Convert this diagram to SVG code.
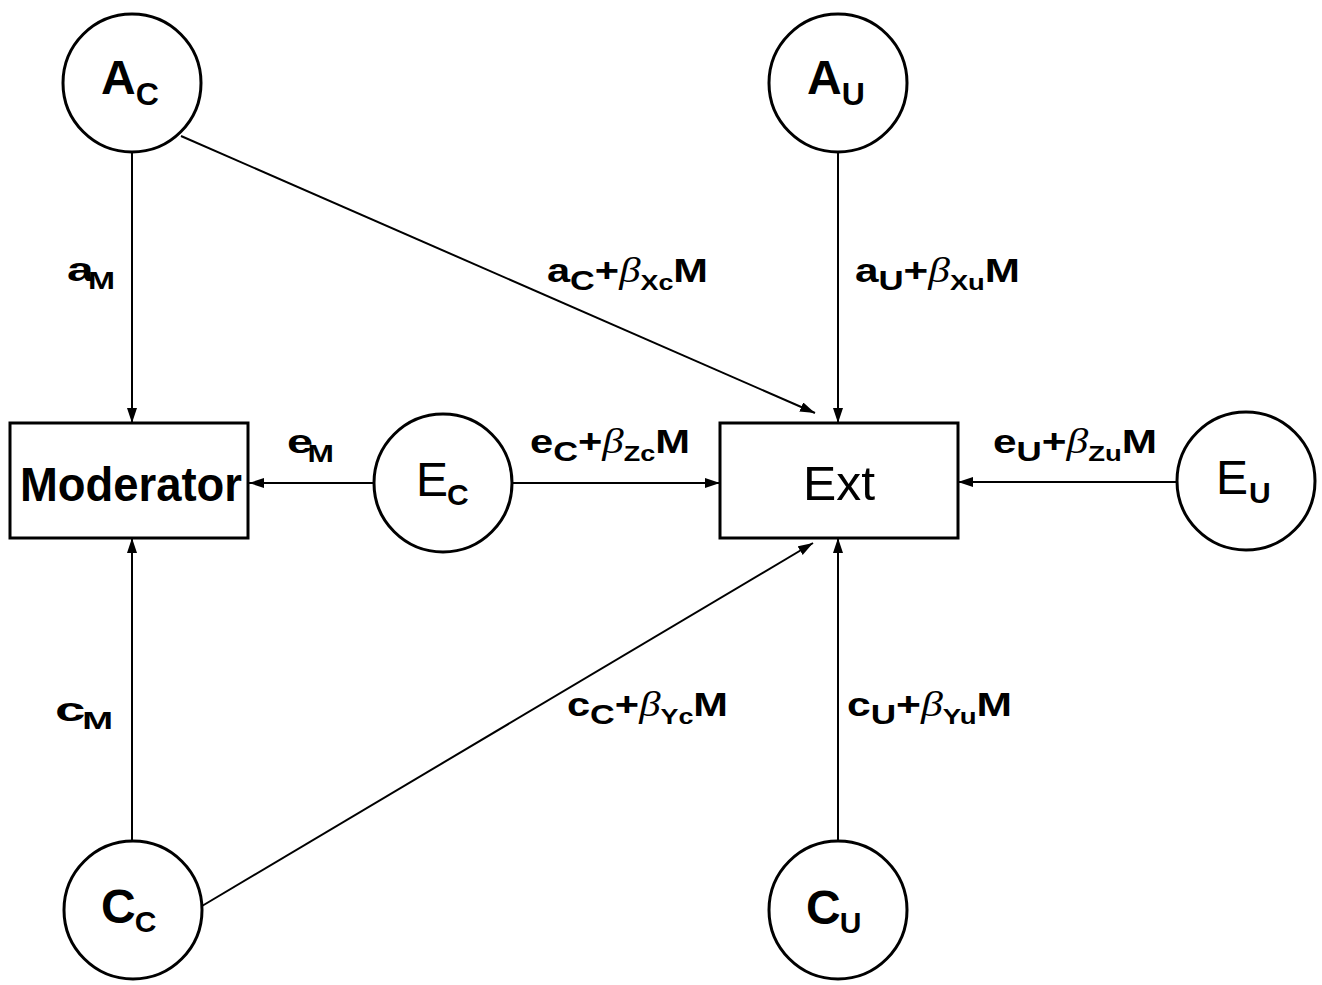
<svg xmlns="http://www.w3.org/2000/svg" width="1322" height="985" viewBox="0 0 1322 985">
<style>
.node{fill:#fff;stroke:#000;stroke-width:3}
.edge{stroke:#000;stroke-width:2;fill:none;marker-end:url(#arr)}
.big{font-family:"Liberation Sans",Arial,sans-serif;font-size:48px;fill:#000}
.lbl{font-family:"Liberation Sans",Arial,sans-serif;font-weight:bold;font-size:34px;fill:#000}
.s1{font-size:28px}
.s2{font-size:22px}
.beta{font-family:"Liberation Serif","Times New Roman",serif;font-style:italic;font-weight:normal;font-size:35px}
</style>
<defs>
<marker id="arr" markerUnits="userSpaceOnUse" markerWidth="16" markerHeight="12" refX="15" refY="5" orient="auto">
<path d="M0,0 L15,5 L0,10 Z" fill="#000"/>
</marker>
</defs>
<rect width="1322" height="985" fill="#fff"/>
<g id="connectors">
<line class="edge" x1="132" y1="152" x2="132" y2="423"/>
<line class="edge" x1="181" y1="136" x2="815" y2="413"/>
<line class="edge" x1="838" y1="152" x2="838" y2="423"/>
<line class="edge" x1="375" y1="483" x2="249" y2="483"/>
<line class="edge" x1="512" y1="483" x2="720" y2="483"/>
<line class="edge" x1="1177" y1="482" x2="958" y2="482"/>
<line class="edge" x1="202" y1="906" x2="813" y2="543"/>
<line class="edge" x1="132" y1="840" x2="132" y2="538"/>
<line class="edge" x1="838" y1="841" x2="838" y2="538"/>
<text class="lbl" x="67" y="281" textLength="48" lengthAdjust="spacingAndGlyphs" font-size="36">a<tspan font-size="23" dx="-4" dy="8">M</tspan></text>
<text class="lbl" x="547" y="282" textLength="161" lengthAdjust="spacingAndGlyphs">a<tspan class="s1" dy="8">C</tspan><tspan dy="-8">+</tspan><tspan class="beta">β</tspan><tspan class="s2" dy="8">Xc</tspan><tspan dy="-8">M</tspan></text>
<text class="lbl" x="855" y="282" textLength="165" lengthAdjust="spacingAndGlyphs">a<tspan class="s1" dy="8">U</tspan><tspan dy="-8">+</tspan><tspan class="beta">β</tspan><tspan class="s2" dy="8">Xu</tspan><tspan dy="-8">M</tspan></text>
<text class="lbl" x="287" y="453" textLength="47" lengthAdjust="spacingAndGlyphs" font-size="36">e<tspan font-size="23" dx="-4" dy="9">M</tspan></text>
<text class="lbl" x="530" y="453" textLength="160" lengthAdjust="spacingAndGlyphs">e<tspan class="s1" dy="8">C</tspan><tspan dy="-8">+</tspan><tspan class="beta">β</tspan><tspan class="s2" dy="8">Zc</tspan><tspan dy="-8">M</tspan></text>
<text class="lbl" x="993" y="453" textLength="164" lengthAdjust="spacingAndGlyphs">e<tspan class="s1" dy="8">U</tspan><tspan dy="-8">+</tspan><tspan class="beta">β</tspan><tspan class="s2" dy="8">Zu</tspan><tspan dy="-8">M</tspan></text>
<text class="lbl" x="55" y="721" textLength="58" lengthAdjust="spacingAndGlyphs" font-size="36">c<tspan font-size="23" dx="-2" dy="8">M</tspan></text>
<text class="lbl" x="567" y="716" textLength="161" lengthAdjust="spacingAndGlyphs">c<tspan class="s1" dy="8">C</tspan><tspan dy="-8">+</tspan><tspan class="beta">β</tspan><tspan class="s2" dy="8">Yc</tspan><tspan dy="-8">M</tspan></text>
<text class="lbl" x="847" y="716" textLength="165" lengthAdjust="spacingAndGlyphs">c<tspan class="s1" dy="8">U</tspan><tspan dy="-8">+</tspan><tspan class="beta">β</tspan><tspan class="s2" dy="8">Yu</tspan><tspan dy="-8">M</tspan></text>
</g>
<g id="AC">
<circle class="node" cx="132" cy="83" r="69"/>
<text class="big" x="101" y="94" font-weight="bold">A<tspan font-size="32" dy="11">C</tspan></text>
</g>
<g id="AU">
<circle class="node" cx="838" cy="83" r="69"/>
<text class="big" x="807" y="94" font-weight="bold">A<tspan font-size="32" dy="11">U</tspan></text>
</g>
<g id="Moderator">
<rect class="node" x="10" y="423" width="238" height="115"/>
<text class="big" x="20" y="501" font-weight="bold" font-size="50" textLength="222" lengthAdjust="spacingAndGlyphs">Moderator</text>
</g>
<g id="EC">
<circle class="node" cx="443" cy="483" r="69"/>
<text class="big" x="416" y="496">E<tspan font-size="30" dx="-1" dy="9" font-weight="bold">C</tspan></text>
</g>
<g id="Ext">
<rect class="node" x="720" y="423" width="238" height="115"/>
<text class="big" x="803" y="500" font-size="50" textLength="72" lengthAdjust="spacingAndGlyphs">Ext</text>
</g>
<g id="EU">
<circle class="node" cx="1246" cy="481" r="69"/>
<text class="big" x="1216" y="494">E<tspan font-size="30" dx="1" dy="9" font-weight="bold">U</tspan></text>
</g>
<g id="CC">
<circle class="node" cx="133" cy="910" r="69"/>
<text class="big" x="101" y="923" font-weight="bold">C<tspan font-size="30" dx="-1" dy="9">C</tspan></text>
</g>
<g id="CU">
<circle class="node" cx="838" cy="910" r="69"/>
<text class="big" x="806" y="924" font-weight="bold">C<tspan font-size="30" dx="-1" dy="9">U</tspan></text>
</g>
</svg>
